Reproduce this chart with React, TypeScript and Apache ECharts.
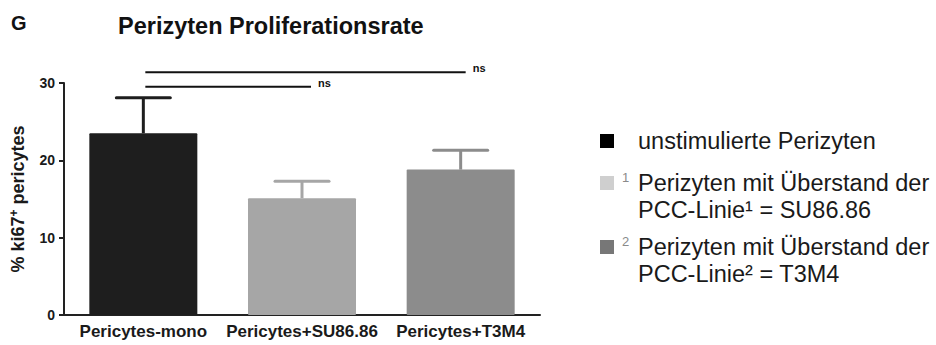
import React, { useEffect, useRef } from "react";
import * as echarts from "echarts";

const categories = ["Pericytes-mono", "Pericytes+SU86.86", "Pericytes+T3M4"];
const means = [23.5, 15.1, 18.8];
const errors = [4.6, 2.2, 2.5];
const barColors = ["#1e1e1e", "#a6a6a6", "#8c8c8c"];
const yTicks = [0, 10, 20, 30];
// significance brackets: [fromCategory, toCategory, yValue]
const sigPairs = [
  [0, 2, 31.4],
  [0, 1, 29.5],
];
const sigLabels = ["ns", "ns"];
const legendItems = [
  { color: "#000000", sup: "", lines: ["unstimulierte Perizyten"] },
  { color: "#cfcfcf", sup: "1", lines: ["Perizyten mit Überstand der", "PCC-Linie¹ = SU86.86"] },
  { color: "#777777", sup: "2", lines: ["Perizyten mit Überstand der", "PCC-Linie² = T3M4"] },
];

const FONT = "'Liberation Sans', Arial, Helvetica, sans-serif";

export default function App() {
  const ref = useRef<HTMLDivElement>(null);
  useEffect(() => {
    document.body.style.margin = "0";
    if (!ref.current) return;
    const chart = echarts.init(ref.current, null, { renderer: "svg" });

    const legendGraphics: any[] = [];
    const legendTops = [141, 183, 247];
    legendItems.forEach((it, i) => {
      const cy = legendTops[i];
      legendGraphics.push({
        type: "rect",
        shape: { x: 600, y: cy - 7, width: 14, height: 14 },
        style: { fill: it.color },
      });
      if (it.sup) {
        legendGraphics.push({
          type: "text",
          x: 622,
          y: cy - 6,
          style: { text: it.sup, font: `13px ${FONT}`, fill: "#8a8a8a", textVerticalAlign: "middle" },
        });
      }
      it.lines.forEach((ln, j) => {
        legendGraphics.push({
          type: "text",
          x: 638,
          y: cy + j * 27,
          style: { text: ln, font: `23.5px ${FONT}`, fill: "#1a1a1a", textVerticalAlign: "middle" },
        });
      });
    });

    chart.setOption({
      animation: false,
      grid: { left: 63, right: 396, top: 83, bottom: 30, containLabel: false },
      xAxis: {
        type: "category",
        data: categories,
        axisLine: { lineStyle: { color: "#222", width: 2 } },
        axisTick: { alignWithLabel: true, length: 5, lineStyle: { color: "#222", width: 2 } },
        axisLabel: { color: "#1a1a1a", fontWeight: "bold", fontSize: 17, fontFamily: FONT, margin: 8, interval: 0 },
      },
      yAxis: {
        type: "value",
        min: 0,
        max: yTicks[yTicks.length - 1],
        interval: 10,
        splitLine: { show: false },
        axisLine: { show: true, lineStyle: { color: "#222", width: 2 } },
        axisTick: { show: true, length: 5, lineStyle: { color: "#222", width: 2 } },
        axisLabel: { color: "#1a1a1a", fontWeight: "bold", fontSize: 14, fontFamily: FONT, margin: 9 },
        name: "{a|% ki67}{b|+}{a| pericytes}",
        nameLocation: "middle",
        nameGap: 36,
        nameRotate: 90,
        nameTextStyle: {
          rich: {
            a: { fontSize: 18, fontWeight: "bold", fontFamily: FONT, color: "#1a1a1a" },
            b: { fontSize: 12, fontWeight: "bold", fontFamily: FONT, color: "#1a1a1a", verticalAlign: "top", padding: [0, 0, 8, 0] },
          },
        },
      },
      series: [
        {
          type: "bar",
          data: means.map((v, i) => ({ value: v, itemStyle: { color: barColors[i] } })),
          barWidth: 108,
          itemStyle: { borderRadius: 1 },
          z: 2,
        },
        {
          type: "custom",
          z: 3,
          data: means.map((m, i) => [i, m, m + errors[i]]),
          renderItem: (params: any, api: any) => {
            const i = api.value(0);
            const base = api.coord([i, api.value(1)]);
            const top = api.coord([i, api.value(2)]);
            const col = barColors[params.dataIndex];
            const half = 27;
            return {
              type: "group",
              children: [
                { type: "line", shape: { x1: base[0], y1: base[1], x2: top[0], y2: top[1] }, style: { stroke: col, lineWidth: 3 } },
                { type: "line", shape: { x1: top[0] - half, y1: top[1], x2: top[0] + half, y2: top[1] }, style: { stroke: col, lineWidth: 3, lineCap: "round" } },
              ],
            };
          },
        },
        {
          type: "custom",
          z: 3,
          clip: false,
          data: sigPairs,
          renderItem: (params: any, api: any) => {
            const a = api.coord([api.value(0), api.value(2)]);
            const b = api.coord([api.value(1), api.value(2)]);
            const x1 = a[0] + 2;
            const x2 = b[0] + (params.dataIndex === 0 ? 5 : 9);
            return {
              type: "group",
              children: [
                { type: "line", shape: { x1, y1: a[1], x2, y2: a[1] }, style: { stroke: "#111", lineWidth: 2 } },
                {
                  type: "text",
                  x: x2 + 7,
                  y: a[1] - 4,
                  style: { text: sigLabels[params.dataIndex], font: `bold 11px ${FONT}`, fill: "#111", textVerticalAlign: "middle" },
                },
              ],
            };
          },
        },
      ],
      graphic: [
        { type: "text", left: 11, top: 13, style: { text: "G", font: `bold 20px ${FONT}`, fill: "#111" } },
        { type: "text", left: 118, top: 14, style: { text: "Perizyten Proliferationsrate", font: `bold 23.5px ${FONT}`, fill: "#111" } },
        ...legendGraphics,
      ],
    });
    return () => chart.dispose();
  }, []);
  return <div ref={ref} style={{ width: 936, height: 345 }} />;
}
